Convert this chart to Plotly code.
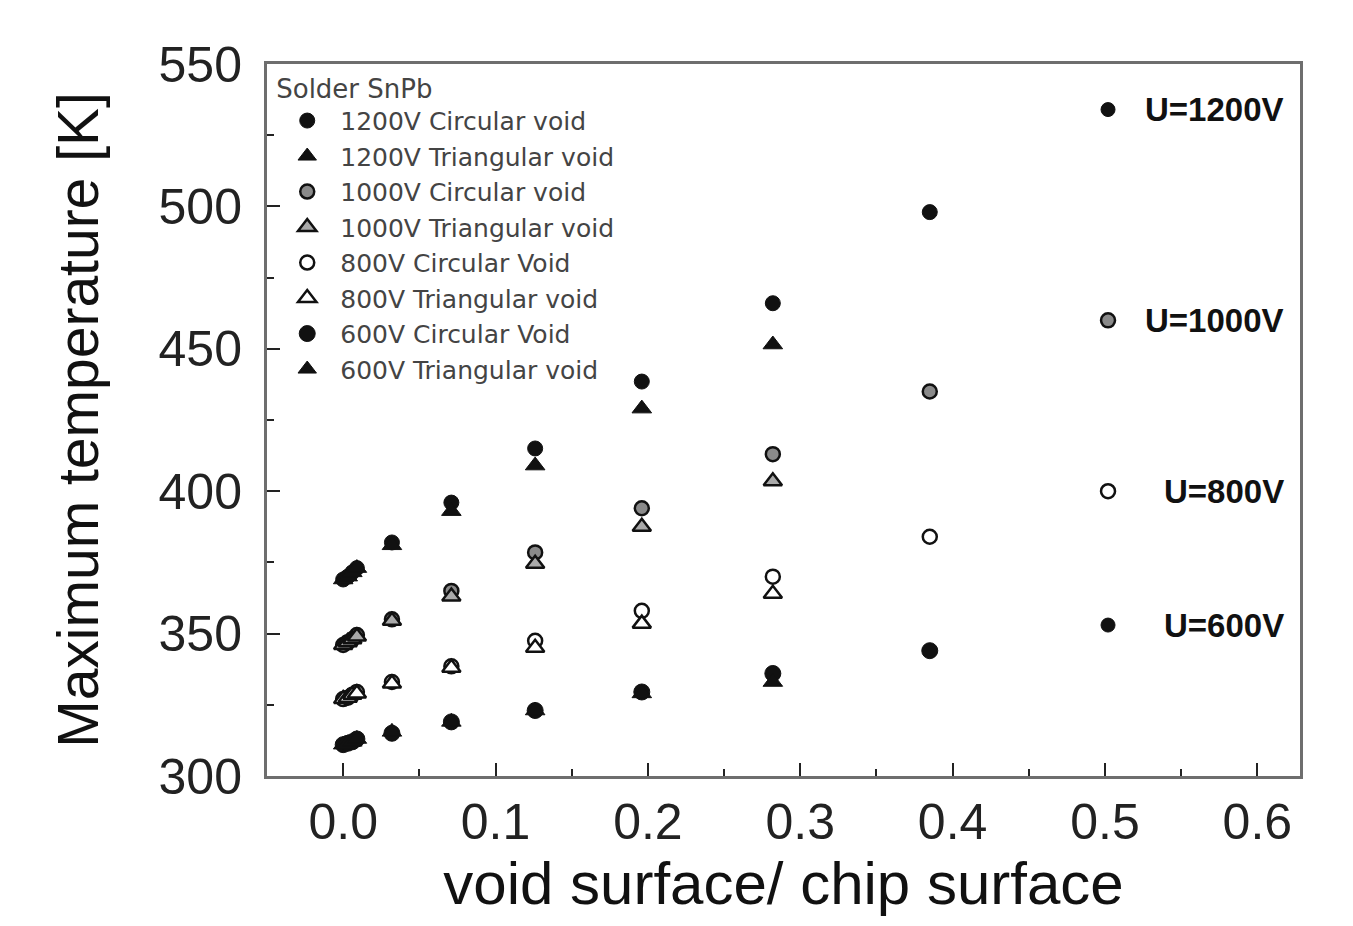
import plotly.graph_objects as go

# ---- data ----
x_circ = [0.0, 0.003, 0.006, 0.009, 0.032, 0.071, 0.126, 0.196, 0.282, 0.385]
x_tri = [0.0, 0.003, 0.006, 0.009, 0.032, 0.071, 0.126, 0.196, 0.282]

c1200 = [369, 370, 371.5, 373, 382, 396, 415, 438.5, 466, 498]
t1200 = [369, 370, 371.5, 373, 381, 393, 409, 429, 451.5]
c1000 = [346, 347, 348, 349.5, 355, 365, 378.5, 394, 413, 435]
t1000 = [346, 347, 348, 349, 354.5, 363, 374.5, 387.5, 403.5]
c800 = [327, 327.5, 328.5, 329.5, 333, 338.5, 347.5, 358, 370, 384]
t800 = [327, 327.5, 328.5, 329, 332.5, 338, 345, 353.5, 364]
c600 = [311, 311.5, 312, 313, 315, 319, 323, 329.5, 336, 344]
t600 = [311, 311.5, 312, 313, 315.5, 319, 323, 329, 333]

key_x = [0.502, 0.502, 0.502, 0.502]
key_y = [534, 460, 400, 353]
key_labels = ["U=1200V", "U=1000V", "U=800V", "U=600V"]
label_x = 0.6185

x_ticks = [0.0, 0.1, 0.2, 0.3, 0.4, 0.5, 0.6]
y_ticks = [300, 350, 400, 450, 500, 550]

fig = go.Figure()

INK = "#111111"


def add(x, y, name, symbol, fill, size, lw):
    fig.add_trace(go.Scatter(
        x=x, y=y, mode="markers", name=name,
        marker=dict(symbol=symbol, size=size, color=fill,
                    line=dict(color=INK, width=lw)),
    ))


add(x_circ, c1200, "1200V Circular void", "circle", INK, 15, 1)
add(x_tri, t1200, "1200V Triangular void", "triangle-up", INK, 17, 1)
add(x_circ, c1000, "1000V Circular void", "circle", "#8a8a8a", 14, 2.5)
add(x_tri, t1000, "1000V Triangular void", "triangle-up", "#aaaaaa", 16, 2.5)
add(x_circ, c800, "800V Circular Void", "circle", "white", 14, 2.5)
add(x_tri, t800, "800V Triangular void", "triangle-up", "white", 16, 2.5)
add(x_circ, c600, "600V Circular Void", "circle", INK, 16, 1)
add(x_tri, t600, "600V Triangular void", "triangle-up", INK, 17, 1)

# key markers on the right
key_fill = [INK, "#8a8a8a", "white", INK]
key_lw = [1, 2.5, 2.5, 1]
fig.add_trace(go.Scatter(
    x=key_x, y=key_y, mode="markers", showlegend=False,
    marker=dict(symbol="circle", size=14, color=key_fill,
                line=dict(color=INK, width=key_lw)),
))

for yy, lab in zip(key_y, key_labels):
    fig.add_annotation(x=label_x, y=yy, text=f"<b>{lab}</b>", showarrow=False,
                       xanchor="right", yanchor="middle",
                       font=dict(family="Liberation Sans, Arial", size=33, color="#111"),
                       )

axis_common = dict(
    showline=True, linecolor="#6e6e6e", linewidth=3, mirror=True,
    ticks="inside", ticklen=13, tickwidth=2, tickcolor="#222",
    showgrid=False, zeroline=False,
    tickfont=dict(family="Liberation Sans, Arial", size=50, color="#222"),
)
minor_common = dict(ticks="inside", ticklen=7, tickwidth=2, tickcolor="#222", showgrid=False)

fig.update_layout(
    width=1337, height=910,
    margin=dict(l=259, r=45, t=56, b=142),
    paper_bgcolor="white", plot_bgcolor="white",
    xaxis=dict(range=[-0.05, 0.628], tickvals=x_ticks,
               ticktext=[f"{v:.1f}" for v in x_ticks],
               minor=dict(dtick=0.05, tick0=0, **minor_common),
               title=dict(text="void surface/ chip surface", standoff=10,
                          font=dict(family="Liberation Sans, Arial", size=60, color="#111")),
               ticklabelstandoff=0,
               **axis_common),
    yaxis=dict(range=[300, 550], tickvals=y_ticks,
               minor=dict(dtick=25, tick0=300, **minor_common),
               title=dict(text="Maximum temperature [K]", standoff=42,
                          font=dict(family="Liberation Sans, Arial", size=57, color="#111")),
               ticklabelstandoff=12,
               **axis_common),
    legend=dict(
        x=0.007, y=1.0, xanchor="left", yanchor="top",
        bgcolor="rgba(0,0,0,0)",
        font=dict(family="DejaVu Sans", size=25, color="#444"),
        title=dict(text="Solder SnPb", font=dict(family="DejaVu Sans", size=26, color="#444")),
        itemwidth=56,
        tracegroupgap=0,
    ),
)

fig.write_html("out.html")
